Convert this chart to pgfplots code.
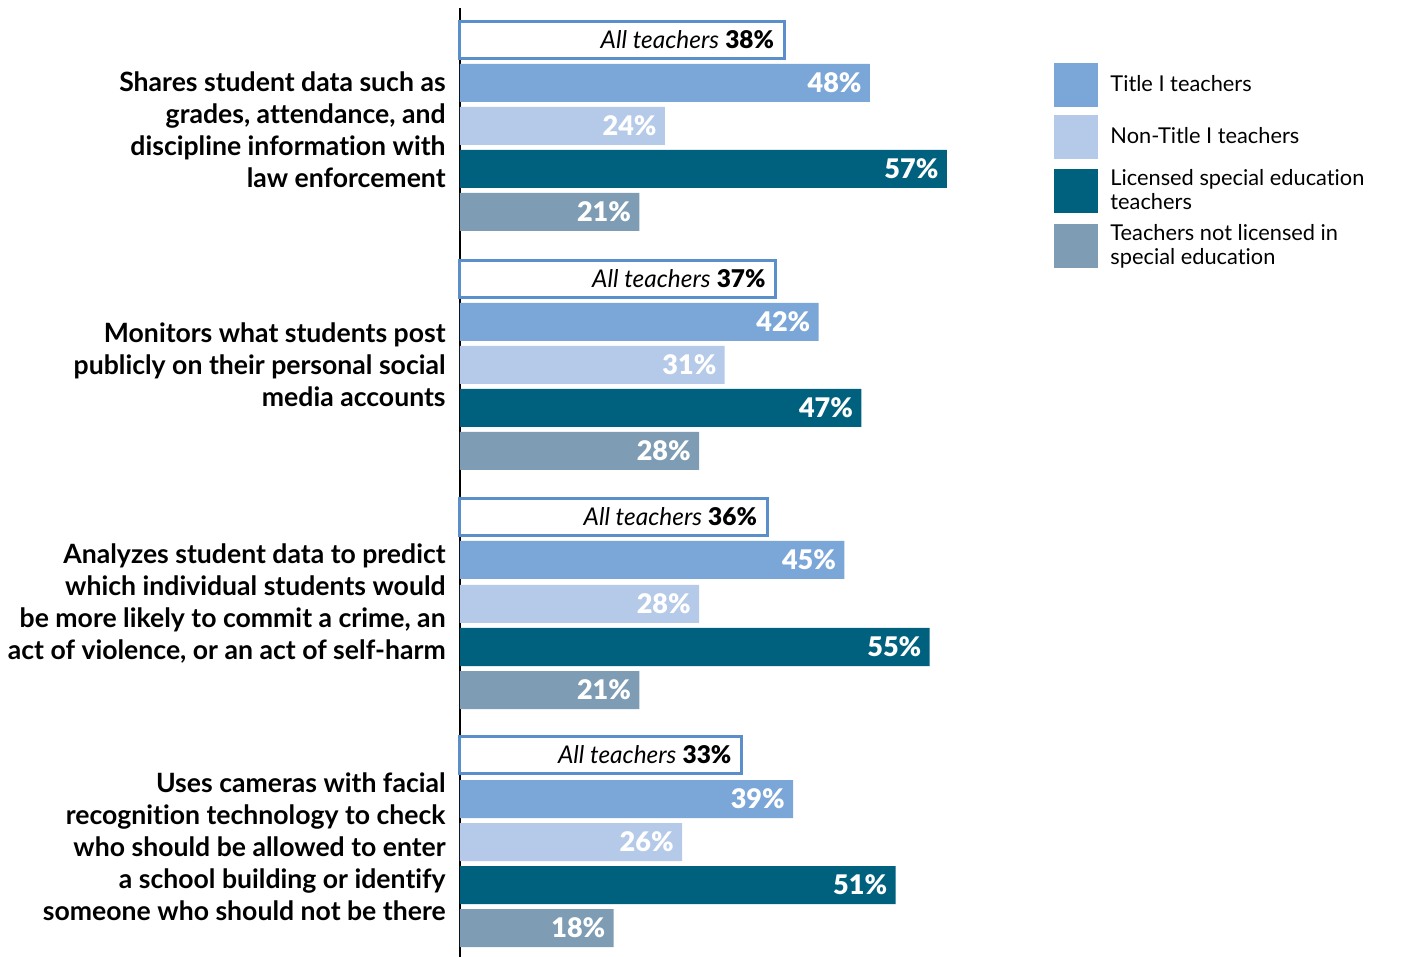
\documentclass[border=0pt]{standalone}
\usepackage{pgfplots}
\pgfplotsset{compat=1.18}
\usepackage{fontspec}
\setmainfont{Lato}[Ligatures=NoCommon]
\newfontfamily\heavy{Lato Black}[Ligatures=NoCommon]
\definecolor{titleI}{HTML}{7BA6D8}
\definecolor{nontitle}{HTML}{B5CAE8}
\definecolor{lic}{HTML}{00617F}
\definecolor{notlic}{HTML}{7E9CB3}
\definecolor{allbd}{HTML}{5B8FCB}
\begin{document}
\begin{tikzpicture}
\begin{axis}[
  x=4.27pt, y=0.5pt, y dir=reverse,
  xmin=0, xmax=60, ymin=8, ymax=957,
  axis y line*=left, axis x line=none,
  axis line style={line width=1pt, black},
  xbar, bar width=19pt, bar shift=0pt,
  legend image code/.code={\path[#1] (0pt,-11pt) rectangle (22pt,11pt);},
  ytick={130,365,604,847},
  yticklabels={
    {Shares student data such as\\grades, attendance, and\\discipline information with\\law enforcement},
    {Monitors what students post\\publicly on their personal social\\media accounts},
    {Analyzes student data to predict\\which individual students would\\be more likely to commit a crime, an\\act of violence, or an act of self-harm},
    {Uses cameras with facial\\recognition technology to check\\who should be allowed to enter\\a school building or identify\\someone who should not be there}},
  yticklabel style={align=right, font=\bfseries\fontsize{13.3}{16}\selectfont, inner sep=0pt, xshift=-7pt},
  major tick length=0pt,
  point meta=explicit symbolic,
  nodes near coords,
  every node near coord/.append style={anchor=east, inner sep=0pt, xshift=-4pt, font=\heavy\fontsize{13.5}{15}\selectfont, text=white},
  clip=false,
  legend style={at={(axis cs:69.56,63)}, anchor=north west, draw=none, fill=none, inner sep=0pt,
    row sep=4pt, font=\fontsize{10.9}{12}\selectfont, cells={anchor=west, align=left},
    nodes={inner sep=0pt},
    /tikz/every odd column/.style={column sep=6pt}},
]
\addplot[forget plot, fill=white, draw=allbd, line width=1.5pt, bar width=18.5pt,
  every node near coord/.append style={text=black, xshift=-0.5pt, font=\fontsize{12.2}{14}\selectfont}]
  coordinates {(38,40) [\textit{All teachers}\ {\heavy 38\%}] (37,279) [\textit{All teachers}\ {\heavy 37\%}]
               (36,517) [\textit{All teachers}\ {\heavy 36\%}] (33,755) [\textit{All teachers}\ {\heavy 33\%}]};
\addplot[fill=titleI, draw=none]
  coordinates {(48,83) [48\%] (42,322) [42\%] (45,560) [45\%] (39,799) [39\%]};
\addlegendentry{Title I teachers}
\addplot[fill=nontitle, draw=none]
  coordinates {(24,126) [24\%] (31,365) [31\%] (28,604) [28\%] (26,842) [26\%]};
\addlegendentry{Non-Title I teachers}
\addplot[fill=lic, draw=none]
  coordinates {(57,169) [57\%] (47,408) [47\%] (55,647) [55\%] (51,885) [51\%]};
\addlegendentry[inner ysep=1pt]{Licensed special education\\teachers}
\addplot[fill=notlic, draw=none]
  coordinates {(21,212) [21\%] (28,451) [28\%] (21,690) [21\%] (18,928) [18\%]};
\addlegendentry[inner ysep=1pt]{Teachers not licensed in\\special education}
\coordinate (bbTL) at (axis cs:-53.864,0);
\coordinate (bbBR) at (axis cs:110.656,957);
\end{axis}
\pgfresetboundingbox
\path (bbTL) rectangle (bbBR);
\end{tikzpicture}
\end{document}
